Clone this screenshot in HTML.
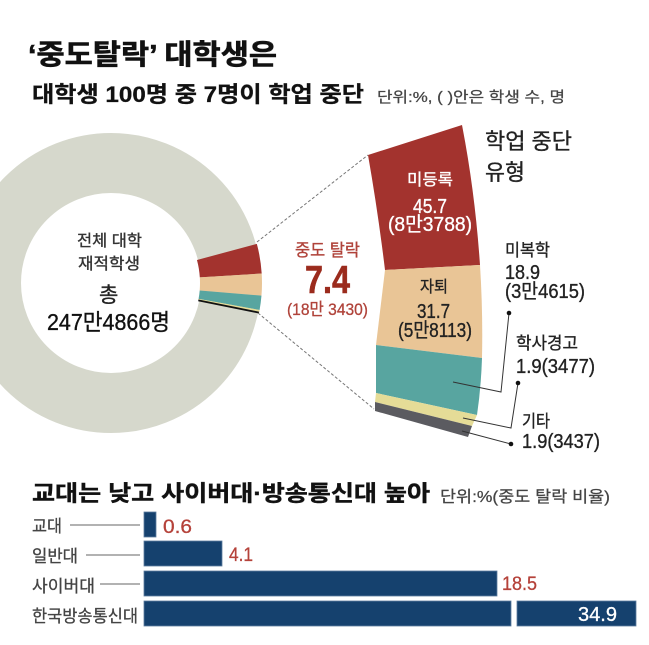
<!DOCTYPE html>
<html>
<head>
<meta charset="utf-8">
<style>
  html,body{margin:0;padding:0;background:#fff;}
  svg{display:block;}
  text{font-family:"Liberation Sans","Noto Sans CJK KR",sans-serif;}
</style>
</head>
<body>
<svg width="649" height="645" viewBox="0 0 649 645" xmlns="http://www.w3.org/2000/svg">
  <rect x="0" y="0" width="649" height="645" fill="#ffffff"/>

  <!-- Titles -->
  <text x="28" y="64" font-size="28" font-weight="bold" fill="#111" stroke="#111" stroke-width="0.6" textLength="249" lengthAdjust="spacingAndGlyphs">‘중도탈락’ 대학생은</text>
  <text x="32" y="102" font-size="22" font-weight="bold" fill="#111" stroke="#111" stroke-width="0.3" textLength="332" lengthAdjust="spacingAndGlyphs">대학생 100명 중 7명이 학업 중단</text>
  <text x="377" y="102" font-size="15" fill="#444" stroke="#444" stroke-width="0.25" textLength="188" lengthAdjust="spacingAndGlyphs">단위:%, ( )안은 학생 수, 명</text>

  <!-- Donut ring -->
  <circle cx="111" cy="283" r="120" fill="none" stroke="#d6d8cc" stroke-width="60"/>

  <!-- Donut wedge -->
  <path d="M196.97,259.97 L256.85,243.92 A151,151 0 0 1 261.70,273.52 L199.82,277.41 A89,89 0 0 0 196.97,259.97 Z" fill="#a3332e"/>
  <path d="M199.82,277.41 L261.70,273.52 A151,151 0 0 1 261.47,295.64 L199.69,290.45 A89,89 0 0 0 199.82,277.41 Z" fill="#e9c596"/>
  <path d="M199.69,290.45 L261.47,295.64 A151,151 0 0 1 259.57,310.00 L198.57,298.91 A89,89 0 0 0 199.69,290.45 Z" fill="#58a5a0"/>
  <path d="M198.57,298.91 L259.57,310.00 A151,151 0 0 1 259.23,311.81 L198.37,299.98 A89,89 0 0 0 198.57,298.91 Z" fill="#e5dc97"/>
  <line x1="198.3" y1="300.4" x2="259" y2="312.6" stroke="#111" stroke-width="1.8"/>

  <!-- Donut center text -->
  <g stroke-width="0.35">
  <text x="77" y="246" font-size="16" fill="#333" stroke="#333" textLength="65" lengthAdjust="spacingAndGlyphs">전체 대학</text>
  <text x="78" y="269" font-size="16" fill="#333" stroke="#333" textLength="62" lengthAdjust="spacingAndGlyphs">재적학생</text>
  <text x="99" y="302" font-size="21" fill="#222" stroke="#222">총</text>
  <text x="47" y="330" font-size="23" fill="#111" stroke="#111" textLength="123" lengthAdjust="spacingAndGlyphs">247만4866명</text>
  </g>

  <!-- Dashed connector lines -->
  <line x1="257" y1="242" x2="368" y2="155" stroke="#777" stroke-width="1" stroke-dasharray="3,2"/>
  <line x1="258" y1="313" x2="374" y2="409" stroke="#777" stroke-width="1" stroke-dasharray="3,2"/>

  <!-- Middle label -->
  <text x="295" y="256" font-size="17" fill="#b0433a" stroke="#b0433a" stroke-width="0.35" textLength="65" lengthAdjust="spacingAndGlyphs">중도 탈락</text>
  <text x="305" y="293" font-size="39" font-weight="bold" fill="#9b2b1d" stroke="#9b2b1d" stroke-width="0.6" textLength="45" lengthAdjust="spacingAndGlyphs">7.4</text>
  <text x="287" y="315" font-size="17" fill="#b0433a" stroke="#b0433a" stroke-width="0.3" textLength="81" lengthAdjust="spacingAndGlyphs">(18만 3430)</text>

  <!-- Expanded breakdown shape -->
  <path d="M368,155 L462,125 Q475,192 480,265 L385,270 Q378,212 368,155 Z" fill="#a3332e"/>
  <path d="M385,270 L480,265 Q483,312 482,358 L376,345 Z" fill="#e9c596"/>
  <path d="M376,345 L482,358 Q481,388 477,415 L376,393 Z" fill="#58a5a0"/>
  <path d="M376,393 L477,415 L472,426 L375,402 Z" fill="#e5dc97"/>
  <path d="M375,402 L472,426 L468,437 L375,411 Z" fill="#5b5b60"/>

  <!-- Shape labels -->
  <g stroke-width="0.35">
  <text x="407" y="185" font-size="16" fill="#fff" stroke="#fff" textLength="46" lengthAdjust="spacingAndGlyphs">미등록</text>
  <text x="413" y="213" font-size="20" fill="#fff" stroke="#fff" textLength="34" lengthAdjust="spacingAndGlyphs">45.7</text>
  <text x="388" y="231" font-size="20" fill="#fff" stroke="#fff" textLength="84" lengthAdjust="spacingAndGlyphs">(8만3788)</text>
  <text x="420" y="292" font-size="16" fill="#222" stroke="#222" textLength="28" lengthAdjust="spacingAndGlyphs">자퇴</text>
  <text x="417" y="318" font-size="20" fill="#222" stroke="#222" textLength="33" lengthAdjust="spacingAndGlyphs">31.7</text>
  <text x="398" y="337" font-size="20" fill="#222" stroke="#222" textLength="74" lengthAdjust="spacingAndGlyphs">(5만8113)</text>

  <text x="485" y="149" font-size="22" fill="#222" stroke="#222" textLength="87" lengthAdjust="spacingAndGlyphs">학업 중단</text>
  <text x="485" y="180" font-size="22" fill="#222" stroke="#222" textLength="40" lengthAdjust="spacingAndGlyphs">유형</text>

  <text x="505" y="256" font-size="17" fill="#222" stroke="#222" textLength="45" lengthAdjust="spacingAndGlyphs">미복학</text>
  <text x="505" y="279" font-size="20" fill="#222" stroke="#222" textLength="35" lengthAdjust="spacingAndGlyphs">18.9</text>
  <text x="505" y="298" font-size="20" fill="#222" stroke="#222" textLength="80" lengthAdjust="spacingAndGlyphs">(3만4615)</text>
  <text x="516" y="349" font-size="17" fill="#222" stroke="#222" textLength="62" lengthAdjust="spacingAndGlyphs">학사경고</text>
  <text x="516" y="373" font-size="20" fill="#222" stroke="#222" textLength="79" lengthAdjust="spacingAndGlyphs">1.9(3477)</text>
  <text x="522" y="427" font-size="17" fill="#222" stroke="#222" textLength="28" lengthAdjust="spacingAndGlyphs">기타</text>
  <text x="522" y="448" font-size="20" fill="#222" stroke="#222" textLength="78" lengthAdjust="spacingAndGlyphs">1.9(3437)</text>
  </g>

  <!-- Leader lines -->
  <polyline points="509,313 501,392 453,382" fill="none" stroke="#333" stroke-width="1"/>
  <circle cx="509" cy="313" r="2.3" fill="#111"/>
  <polyline points="518,383 511,428 463,418" fill="none" stroke="#333" stroke-width="1"/>
  <circle cx="518" cy="383" r="2.3" fill="#111"/>
  <polyline points="511,444 462,431" fill="none" stroke="#333" stroke-width="1"/>
  <circle cx="511" cy="444" r="2.3" fill="#111"/>

  <!-- Bar chart -->
  <text x="32" y="501" font-size="22" font-weight="bold" fill="#111" stroke="#111" stroke-width="0.4" textLength="398" lengthAdjust="spacingAndGlyphs">교대는 낮고 사이버대·방송통신대 높아</text>
  <text x="440" y="502" font-size="16" fill="#444" stroke="#444" stroke-width="0.25" textLength="170" lengthAdjust="spacingAndGlyphs">단위:%(중도 탈락 비율)</text>

  <g stroke-width="0.3">
  <text x="32" y="532" font-size="17" fill="#444" stroke="#444" textLength="30" lengthAdjust="spacingAndGlyphs">교대</text>
  <text x="32" y="562" font-size="17" fill="#444" stroke="#444" textLength="46" lengthAdjust="spacingAndGlyphs">일반대</text>
  <text x="32" y="592" font-size="17" fill="#444" stroke="#444" textLength="63" lengthAdjust="spacingAndGlyphs">사이버대</text>
  <text x="32" y="622" font-size="17" fill="#444" stroke="#444" textLength="106" lengthAdjust="spacingAndGlyphs">한국방송통신대</text>
  </g>

  <line x1="70" y1="525" x2="140" y2="525" stroke="#999" stroke-width="1.5"/>
  <line x1="86" y1="555" x2="140" y2="555" stroke="#999" stroke-width="1.5"/>
  <line x1="100" y1="584" x2="140" y2="584" stroke="#999" stroke-width="1.5"/>

  <g fill="#15416e" stroke="#5d7d9f" stroke-width="0.8">
    <rect x="144" y="512" width="12" height="25"/>
    <rect x="144" y="541" width="78" height="25"/>
    <rect x="144" y="571" width="353" height="25"/>
    <rect x="144" y="601" width="367" height="25"/>
    <rect x="517" y="601" width="119" height="25"/>
  </g>

  <g stroke-width="0.3">
  <text x="163" y="533" font-size="19" fill="#b5423a" stroke="#b5423a" textLength="29" lengthAdjust="spacingAndGlyphs">0.6</text>
  <text x="229" y="561" font-size="19" fill="#b5423a" stroke="#b5423a" textLength="24" lengthAdjust="spacingAndGlyphs">4.1</text>
  <text x="502" y="590" font-size="19" fill="#b5423a" stroke="#b5423a" textLength="35" lengthAdjust="spacingAndGlyphs">18.5</text>
  <text x="578" y="621" font-size="20" fill="#fff" stroke="#fff" textLength="39" lengthAdjust="spacingAndGlyphs">34.9</text>
  </g>
</svg>
</body>
</html>
